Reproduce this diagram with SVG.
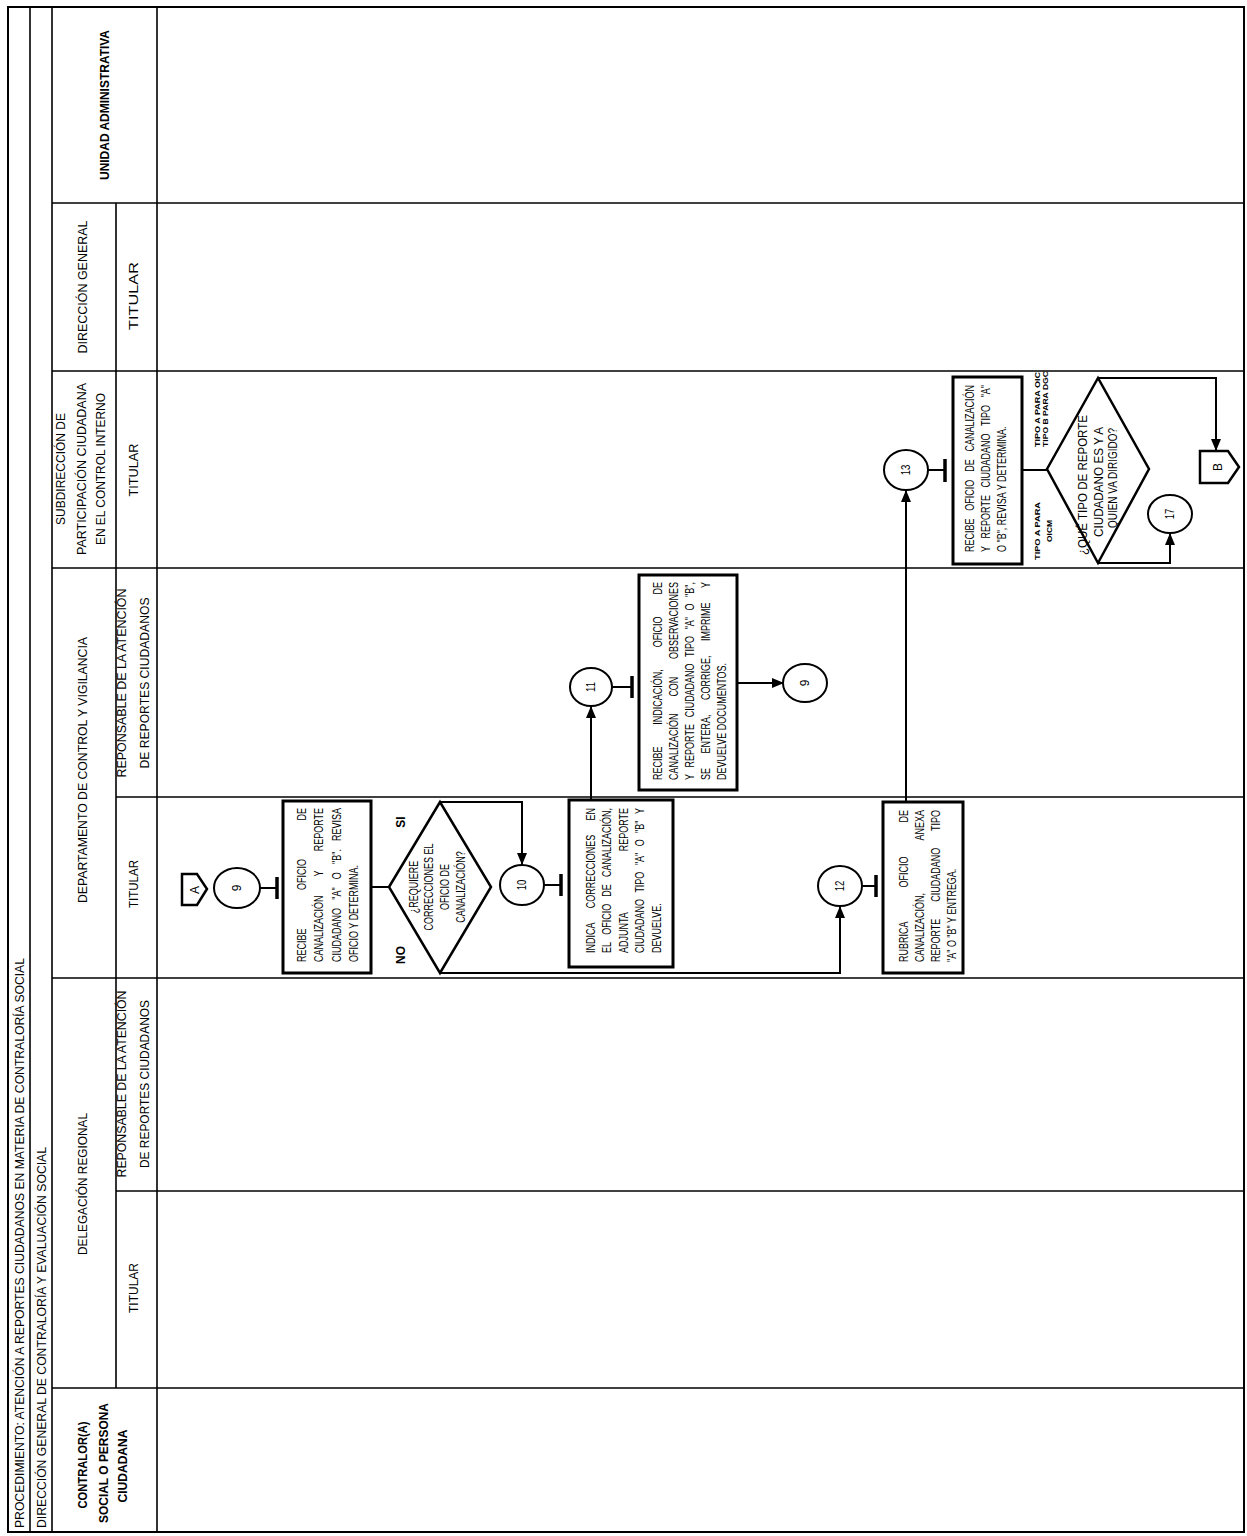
<svg xmlns="http://www.w3.org/2000/svg" width="1247" height="1536" viewBox="0 0 1247 1536">
<style>
text { font-family: "Liberation Sans", Arial, sans-serif; fill: #000; font-size: 12px; }
.bd { font-weight: bold; }
.sm { font-size: 8px; font-weight: bold; }
.lane { stroke: #000; stroke-width: 1.6; fill: none; }
.frame { stroke: #000; stroke-width: 2; fill: none; }
.box { fill: #fff; stroke: #000; stroke-width: 3; }
.dia { fill: #fff; stroke: #000; stroke-width: 2.5; }
.cir { fill: #fff; stroke: #000; stroke-width: 2; }
.off { fill: #fff; stroke: #000; stroke-width: 2.5; }
.con { stroke: #000; stroke-width: 2; fill: none; }
.bar { stroke: #000; stroke-width: 3.5; fill: none; }
</style>
<defs>
<marker id="ah" viewBox="0 0 12 12" refX="11" refY="6" markerWidth="12" markerHeight="12" markerUnits="userSpaceOnUse" orient="auto">
<path d="M0,1 L12,6 L0,11 z" fill="#000"/>
</marker>
</defs>
<rect x="0" y="0" width="1247" height="1536" fill="#fff"/>

<g id="frame">
<rect class="frame" x="8" y="7" width="1236" height="1525"/>
<line class="lane" x1="30" y1="7" x2="30" y2="1532"/>
<line class="lane" x1="52" y1="7" x2="52" y2="1532"/>
<line class="lane" x1="157" y1="7" x2="157" y2="1532"/>
<line class="lane" x1="116" y1="203" x2="116" y2="1388"/>
<line class="lane" x1="52" y1="203" x2="1244" y2="203"/>
<line class="lane" x1="52" y1="371" x2="1244" y2="371"/>
<line class="lane" x1="52" y1="568" x2="1244" y2="568"/>
<line class="lane" x1="116" y1="797" x2="1244" y2="797"/>
<line class="lane" x1="52" y1="978" x2="1244" y2="978"/>
<line class="lane" x1="116" y1="1191" x2="1244" y2="1191"/>
<line class="lane" x1="52" y1="1388" x2="1244" y2="1388"/>
</g>

<g id="headers">
<text transform="translate(24,1528) rotate(-90)" textLength="570" lengthAdjust="spacingAndGlyphs">PROCEDIMIENTO: ATENCIÓN A REPORTES CIUDADANOS EN MATERIA DE CONTRALORÍA SOCIAL</text>
<text transform="translate(46,1528) rotate(-90)" textLength="381" lengthAdjust="spacingAndGlyphs">DIRECCIÓN GENERAL DE CONTRALORÍA Y EVALUACIÓN SOCIAL</text>

<text class="bd" transform="translate(108.5,105) rotate(-90)" text-anchor="middle" textLength="150" lengthAdjust="spacingAndGlyphs">UNIDAD ADMINISTRATIVA</text>

<text transform="translate(87,287) rotate(-90)" text-anchor="middle" textLength="133" lengthAdjust="spacingAndGlyphs">DIRECCIÓN GENERAL</text>
<text transform="translate(137.5,296) rotate(-90)" text-anchor="middle" textLength="68" lengthAdjust="spacingAndGlyphs">TITULAR</text>

<text transform="translate(64.5,469) rotate(-90)" text-anchor="middle" textLength="112" lengthAdjust="spacingAndGlyphs">SUBDIRECCIÓN DE</text>
<text transform="translate(85.5,469) rotate(-90)" text-anchor="middle" textLength="172" lengthAdjust="spacingAndGlyphs">PARTICIPACIÓN CIUDADANA</text>
<text transform="translate(104.5,469) rotate(-90)" text-anchor="middle" textLength="152" lengthAdjust="spacingAndGlyphs">EN EL CONTROL INTERNO</text>
<text transform="translate(137.5,470) rotate(-90)" text-anchor="middle" textLength="53" lengthAdjust="spacingAndGlyphs">TITULAR</text>

<text transform="translate(87,770) rotate(-90)" text-anchor="middle" textLength="266" lengthAdjust="spacingAndGlyphs">DEPARTAMENTO DE CONTROL Y VIGILANCIA</text>
<text transform="translate(125.5,683) rotate(-90)" text-anchor="middle" textLength="189" lengthAdjust="spacingAndGlyphs">REPONSABLE DE LA ATENCIÓN</text>
<text transform="translate(148.5,683) rotate(-90)" text-anchor="middle" textLength="171" lengthAdjust="spacingAndGlyphs">DE REPORTES CIUDADANOS</text>
<text transform="translate(137.5,884) rotate(-90)" text-anchor="middle" textLength="48" lengthAdjust="spacingAndGlyphs">TITULAR</text>

<text transform="translate(87,1184) rotate(-90)" text-anchor="middle" textLength="142" lengthAdjust="spacingAndGlyphs">DELEGACIÓN REGIONAL</text>
<text transform="translate(125.5,1084) rotate(-90)" text-anchor="middle" textLength="187" lengthAdjust="spacingAndGlyphs">REPONSABLE DE LA ATENCIÓN</text>
<text transform="translate(148.5,1084) rotate(-90)" text-anchor="middle" textLength="168" lengthAdjust="spacingAndGlyphs">DE REPORTES CIUDADANOS</text>
<text transform="translate(137.5,1288) rotate(-90)" text-anchor="middle" textLength="50" lengthAdjust="spacingAndGlyphs">TITULAR</text>

<text class="bd" transform="translate(86.5,1465) rotate(-90)" text-anchor="middle" textLength="87" lengthAdjust="spacingAndGlyphs">CONTRALOR(A)</text>
<text class="bd" transform="translate(107.5,1463) rotate(-90)" text-anchor="middle" textLength="120" lengthAdjust="spacingAndGlyphs">SOCIAL O PERSONA</text>
<text class="bd" transform="translate(126.5,1466) rotate(-90)" text-anchor="middle" textLength="73" lengthAdjust="spacingAndGlyphs">CIUDADANA</text>
</g>

<g id="connectors">
<line class="con" x1="260" y1="888" x2="277" y2="888"/>
<line class="bar" x1="277" y1="877" x2="277" y2="899"/>
<line class="con" x1="371" y1="887" x2="389" y2="887"/>
<polyline class="con" points="440,802 522,802 522,864" marker-end="url(#ah)"/>
<polyline class="con" points="440,973 840,973 840,907" marker-end="url(#ah)"/>
<line class="con" x1="544" y1="885" x2="561" y2="885"/>
<line class="bar" x1="561" y1="874" x2="561" y2="896"/>
<line class="con" x1="591" y1="800" x2="591" y2="707" marker-end="url(#ah)"/>
<line class="con" x1="612" y1="687" x2="632" y2="687"/>
<line class="bar" x1="632" y1="676" x2="632" y2="698"/>
<line class="con" x1="737" y1="683" x2="783" y2="683" marker-end="url(#ah)"/>
<line class="con" x1="862" y1="886" x2="876" y2="886"/>
<line class="bar" x1="876" y1="875" x2="876" y2="897"/>
<line class="con" x1="906" y1="802" x2="906" y2="491" marker-end="url(#ah)"/>
<line class="con" x1="928" y1="470" x2="945" y2="470"/>
<line class="bar" x1="945" y1="459" x2="945" y2="482"/>
<line class="con" x1="1022" y1="470" x2="1047" y2="470"/>
<polyline class="con" points="1098,378 1216,378 1216,450" marker-end="url(#ah)"/>
<polyline class="con" points="1098,563 1170,563 1170,534" marker-end="url(#ah)"/>
</g>

<g id="offA">
<polygon class="off" points="182,874 197,874 207,889 197,905 182,905"/>
<text transform="translate(198.5,890) rotate(-90)" text-anchor="middle">A</text>
</g>

<g id="c9a">
<ellipse class="cir" cx="237" cy="888" rx="23" ry="20"/>
<text transform="translate(241.3,888) rotate(-90)" text-anchor="middle">9</text>
</g>

<g id="box1">
<rect class="box" x="283" y="801" width="88" height="172"/>
<g transform="translate(0,962) rotate(-90) scale(0.75,1)">
<text y="306"><tspan x="0">RECIBE</tspan><tspan x="116.7" text-anchor="middle">OFICIO</tspan><tspan x="205.3" text-anchor="end">DE</tspan></text>
<text y="323.5"><tspan x="0">CANALIZACIÓN</tspan><tspan x="118" text-anchor="middle">Y</tspan><tspan x="205.3" text-anchor="end">REPORTE</tspan></text>
<text y="341"><tspan x="0">CIUDADANO</tspan><tspan x="91.2" text-anchor="middle">"A"</tspan><tspan x="115.1" text-anchor="middle">O</tspan><tspan x="140.6" text-anchor="middle">"B".</tspan><tspan x="205.3" text-anchor="end">REVISA</tspan></text>
<text y="358.5" x="0">OFICIO Y DETERMINA.</text>
</g>
</g>

<g id="dec1">
<polygon class="dia" points="389,887 440,802 491,887 440,973"/>
<g transform="translate(0,887) rotate(-90) scale(0.75,1)" text-anchor="middle">
<text x="0" y="418.3">¿REQUIERE</text>
<text x="0" y="433.3">CORRECCIONES EL</text>
<text x="0" y="449.3">OFICIO DE</text>
<text x="0" y="465.3">CANALIZACIÓN?</text>
</g>
<text class="bd" transform="translate(404.5,822) rotate(-90)" text-anchor="middle">SI</text>
<text class="bd" transform="translate(404.5,955) rotate(-90)" text-anchor="middle">NO</text>
</g>

<g id="c10">
<ellipse class="cir" cx="522" cy="885" rx="22" ry="20"/>
<text transform="translate(526.3,885) rotate(-90) scale(0.8,1)" text-anchor="middle">10</text>
</g>

<g id="box10">
<rect class="box" x="569" y="800" width="104" height="167"/>
<g transform="translate(0,953) rotate(-90) scale(0.75,1)">
<text y="595"><tspan x="0">INDICA</tspan><tspan x="108.7" text-anchor="middle">CORRECCIONES</tspan><tspan x="193.3" text-anchor="end">EN</tspan></text>
<text y="611.5"><tspan x="0">EL</tspan><tspan x="44.9" text-anchor="middle">OFICIO</tspan><tspan x="83.5" text-anchor="middle">DE</tspan><tspan x="193.3" text-anchor="end">CANALIZACIÓN,</tspan></text>
<text y="628"><tspan x="0">ADJUNTA</tspan><tspan x="193.3" text-anchor="end">REPORTE</tspan></text>
<text y="644.5"><tspan x="0">CIUDADANO</tspan><tspan x="94.5" text-anchor="middle">TIPO</tspan><tspan x="125.5" text-anchor="middle">"A"</tspan><tspan x="146.9" text-anchor="middle">O</tspan><tspan x="168.4" text-anchor="middle">"B"</tspan><tspan x="193.3" text-anchor="end">Y</tspan></text>
<text y="661" x="0">DEVUELVE.</text>
</g>
</g>

<g id="c11">
<ellipse class="cir" cx="591" cy="687" rx="21" ry="19"/>
<text transform="translate(595.3,687) rotate(-90) scale(0.8,1)" text-anchor="middle">11</text>
</g>

<g id="box11">
<rect class="box" x="639" y="575" width="98" height="215"/>
<g transform="translate(0,780) rotate(-90) scale(0.75,1)">
<text y="662"><tspan x="0">RECIBE</tspan><tspan x="110.8" text-anchor="middle">INDICACIÓN,</tspan><tspan x="197.5" text-anchor="middle">OFICIO</tspan><tspan x="264" text-anchor="end">DE</tspan></text>
<text y="678"><tspan x="0">CANALIZACIÓN</tspan><tspan x="124.5" text-anchor="middle">CON</tspan><tspan x="264" text-anchor="end">OBSERVACIONES</tspan></text>
<text y="694"><tspan x="0">Y</tspan><tspan x="45.7" text-anchor="middle">REPORTE</tspan><tspan x="119.5" text-anchor="middle">CIUDADANO</tspan><tspan x="178.1" text-anchor="middle">TIPO</tspan><tspan x="209.1" text-anchor="middle">"A"</tspan><tspan x="230.7" text-anchor="middle">O</tspan><tspan x="264" text-anchor="end">"B",</tspan></text>
<text y="710"><tspan x="0">SE</tspan><tspan x="61.3" text-anchor="middle">ENTERA,</tspan><tspan x="136.3" text-anchor="middle">CORRIGE,</tspan><tspan x="211" text-anchor="middle">IMPRIME</tspan><tspan x="264" text-anchor="end">Y</tspan></text>
<text y="726" x="0">DEVUELVE DOCUMENTOS.</text>
</g>
</g>

<g id="c9b">
<ellipse class="cir" cx="805" cy="683" rx="22" ry="19"/>
<text transform="translate(809.3,683) rotate(-90)" text-anchor="middle">9</text>
</g>

<g id="c12">
<ellipse class="cir" cx="840" cy="886" rx="22" ry="20"/>
<text transform="translate(844.3,886) rotate(-90) scale(0.8,1)" text-anchor="middle">12</text>
</g>

<g id="box12">
<rect class="box" x="883" y="802" width="80" height="171"/>
<g transform="translate(0,962) rotate(-90) scale(0.75,1)">
<text y="908"><tspan x="0">RUBRICA</tspan><tspan x="120" text-anchor="middle">OFICIO</tspan><tspan x="202.7" text-anchor="end">DE</tspan></text>
<text y="924"><tspan x="0">CANALIZACIÓN,</tspan><tspan x="202.7" text-anchor="end">ANEXA</tspan></text>
<text y="940"><tspan x="0">REPORTE</tspan><tspan x="116.3" text-anchor="middle">CIUDADANO</tspan><tspan x="202.7" text-anchor="end">TIPO</tspan></text>
<text y="956" x="0">"A" O "B" Y ENTREGA.</text>
</g>
</g>

<g id="c13">
<ellipse class="cir" cx="906" cy="470" rx="22" ry="20"/>
<text transform="translate(910.3,470) rotate(-90) scale(0.8,1)" text-anchor="middle">13</text>
</g>

<g id="box13">
<rect class="box" x="953" y="377" width="69" height="187"/>
<g transform="translate(0,552) rotate(-90) scale(0.75,1)">
<text y="974"><tspan x="0">RECIBE</tspan><tspan x="75.7" text-anchor="middle">OFICIO</tspan><tspan x="115.2" text-anchor="middle">DE</tspan><tspan x="222.7" text-anchor="end">CANALIZACIÓN</tspan></text>
<text y="990"><tspan x="0">Y</tspan><tspan x="47" text-anchor="middle">REPORTE</tspan><tspan x="122" text-anchor="middle">CIUDADANO</tspan><tspan x="182" text-anchor="middle">TIPO</tspan><tspan x="222.7" text-anchor="end">"A"</tspan></text>
<text y="1006" x="0">O "B", REVISA Y DETERMINA.</text>
</g>
</g>

<g id="dec2">
<polygon class="dia" points="1047,469 1098,378 1149,469 1098,563"/>
<text transform="translate(1087.3,485) rotate(-90)" text-anchor="middle" textLength="140" lengthAdjust="spacingAndGlyphs">¿QUÉ TIPO DE REPORTE</text>
<text transform="translate(1103.3,482) rotate(-90)" text-anchor="middle" textLength="110" lengthAdjust="spacingAndGlyphs">CIUDADANO ES Y A</text>
<text transform="translate(1117.3,478) rotate(-90)" text-anchor="middle" textLength="100" lengthAdjust="spacingAndGlyphs">QUIEN VA DIRIGIDO?</text>
<text class="sm" transform="translate(1040,447) rotate(-90)" textLength="75" lengthAdjust="spacingAndGlyphs">TIPO A PARA OIC</text>
<text class="sm" transform="translate(1047.5,447) rotate(-90)" textLength="76" lengthAdjust="spacingAndGlyphs">TIPO B PARA DGC</text>
<text class="sm" transform="translate(1040,531) rotate(-90)" text-anchor="middle" textLength="58" lengthAdjust="spacingAndGlyphs">TIPO A PARA</text>
<text class="sm" transform="translate(1052,531) rotate(-90)" text-anchor="middle" textLength="22" lengthAdjust="spacingAndGlyphs">OICM</text>
</g>

<g id="offB">
<polygon class="off" points="1200,451 1228,451 1239,467 1228,483 1200,483"/>
<text transform="translate(1222,467) rotate(-90)" text-anchor="middle">B</text>
</g>

<g id="c17">
<ellipse class="cir" cx="1170" cy="514" rx="22" ry="19"/>
<text transform="translate(1174.3,514) rotate(-90) scale(0.8,1)" text-anchor="middle">17</text>
</g>
</svg>
